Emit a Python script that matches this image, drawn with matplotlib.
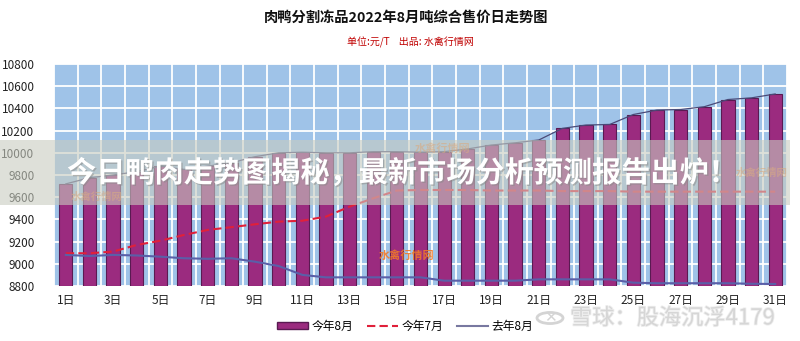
import matplotlib
matplotlib.use("Agg")
import matplotlib.pyplot as plt
import matplotlib.patheffects as pe
from matplotlib.patches import Rectangle, Patch, Circle
from matplotlib.lines import Line2D

plt.rcParams['font.family'] = ['Noto Sans CJK SC', 'DejaVu Sans']

# Daily prices (yuan/ton)
days = list(range(1, 32))
day_labels = [f"{d}日" for d in days]
aug_this_year = [9720, 9775, 9800, 9830, 9880, 9850, 9880, 9910, 9965, 10000,
                 10005, 10000, 10000, 10010, 10010, 10005, 10010, 10035, 10070, 10090,
                 10115, 10220, 10250, 10255, 10345, 10385, 10390, 10415, 10480, 10495,
                 10530]
jul_this_year = [9095, 9095, 9110, 9170, 9208, 9260, 9305, 9330, 9356, 9380,
                 9388, 9425, 9515, 9590, 9660, 9665, 9665, 9665, 9660, 9660,
                 9660, 9655, 9655, 9655, 9650, 9650, 9650, 9650, 9650, 9650,
                 9650]
aug_last_year = [9080, 9070, 9080, 9075, 9064, 9050, 9045, 9050, 9019, 8980,
                 8900, 8878, 8878, 8878, 8878, 8878, 8848, 8848, 8848, 8848,
                 8860, 8860, 8860, 8860, 8830, 8825, 8825, 8825, 8825, 8820,
                 8818]
y_ticks = [8800, 9000, 9200, 9400, 9600, 9800, 10000, 10200, 10400, 10600, 10800]
series_names = ["今年8月", "今年7月", "去年8月"]

title = "肉鸭分割冻品2022年8月吨综合售价日走势图"
subtitle = "单位:元/T    出品: 水禽行情网"
banner = "今日鸭肉走势图揭秘，最新市场分析预测报告出炉！"

W, H = 800, 341
fig = plt.figure(figsize=(W / 100, H / 100), dpi=100)
fig.patch.set_facecolor("white")

ax = fig.add_axes([54 / W, 1 - 286 / H, (787 - 54) / W, (286 - 64) / H])
ax.set_facecolor("#9fc3e8")
x = list(range(len(days)))

# grid
for yv in y_ticks:
    ax.axhline(yv, color="white", lw=1.3, zorder=1)
for i in range(len(days) + 1):
    ax.axvline(i - 0.5, color="white", lw=1.3, zorder=1)

bar_color = "#9b2b7f"
ax.bar(x, [v - 8800 for v in aug_this_year], bottom=8800, width=0.56,
       color=bar_color, edgecolor="#5a1a52", linewidth=0.8, zorder=2)
ax.plot(x, aug_this_year, color="#4a4a78", lw=0.9, zorder=3)
ax.plot(x, jul_this_year, color="#e0203a", lw=1.5, ls=(0, (4, 2)), zorder=4)
ax.plot(x, aug_last_year, color="#5a5fa8", lw=1.5, zorder=4)

ax.set_xlim(-0.5, len(days) - 0.5)
ax.set_ylim(8800, 10800)
ax.set_yticks(y_ticks)
ax.set_yticklabels([str(v) for v in y_ticks], fontsize=8.5, color="#222222")
ax.set_xticks(x[::2])
ax.set_xticklabels(day_labels[::2], fontsize=8.5, color="#222222")
ax.tick_params(length=0, pad=6)
ax.tick_params(axis="y", pad=14)
for s in ax.spines.values():
    s.set_visible(False)

# titles
fig.text(406 / W, 1 - 18 / H, title, ha="center", va="center",
         fontsize=10.3, fontweight="bold", color="#111111")
fig.text(410 / W, 1 - 42 / H, subtitle, ha="center", va="center",
         fontsize=7.2, color="#c00000")

# legend
handles = [Patch(facecolor=bar_color, edgecolor="#5a1a52"),
           Line2D([0], [0], color="#e0203a", lw=1.5, ls=(0, (4, 2))),
           Line2D([0], [0], color="#7878a0", lw=1.5)]
fig.legend(handles, series_names, loc="center", bbox_to_anchor=(405 / W, 1 - 326 / H),
           ncol=3, frameon=False, fontsize=8.5, handlelength=2.6, handleheight=0.5,
           columnspacing=1.2, handletextpad=0.3)

# orange source marks
wm_color = "#f07a28"
fig.text(407 / W, 1 - 255 / H, "水禽行情网", ha="center", va="center",
         fontsize=8, color=wm_color, fontweight="bold", alpha=0.9)
fig.text(443 / W, 1 - 148 / H, "水禽行情网", ha="center", va="center",
         fontsize=8, color=wm_color, fontweight="bold", alpha=0.6)
fig.text(762 / W, 1 - 173 / H, "水禽行情网", ha="center", va="center",
         fontsize=7.5, color=wm_color, fontweight="bold", alpha=0.6)
fig.text(97 / W, 1 - 197 / H, "水禽行情网", ha="center", va="center",
         fontsize=7.5, color=wm_color, fontweight="bold", alpha=0.6)

# translucent banner with headline
fig.patches.append(Rectangle((0, 1 - 205 / H), 790 / W, 65 / H,
                             transform=fig.transFigure, facecolor="#c8ccc0",
                             alpha=0.6, edgecolor="none", zorder=10))
fig.text(402 / W, 1 - 173 / H, banner, ha="center", va="center",
         fontsize=21, fontweight="heavy", color="white", zorder=11,
         path_effects=[pe.withSimplePatchShadow(offset=(1, -1), shadow_rgbFace="#888888", alpha=0.5)])

# bottom-right signature
fig.patches.append(Circle((550 / W, 1 - 318 / H), 13 / W, transform=fig.transFigure,
                          facecolor="none", edgecolor="#d4d4d4", lw=2, zorder=12))
fig.text(550 / W, 1 - 318 / H, "✕", ha="center", va="center", fontsize=11,
         color="#d4d4d4", zorder=12, family=["DejaVu Sans"])
fig.text(570 / W, 1 - 318 / H, "雪球：股海沉浮4179", ha="left", va="center",
         fontsize=16, color="#d6d6d6", zorder=12,
         path_effects=[pe.withStroke(linewidth=1.2, foreground="#eeeeee")])

fig.savefig("out.png", dpi=100)
